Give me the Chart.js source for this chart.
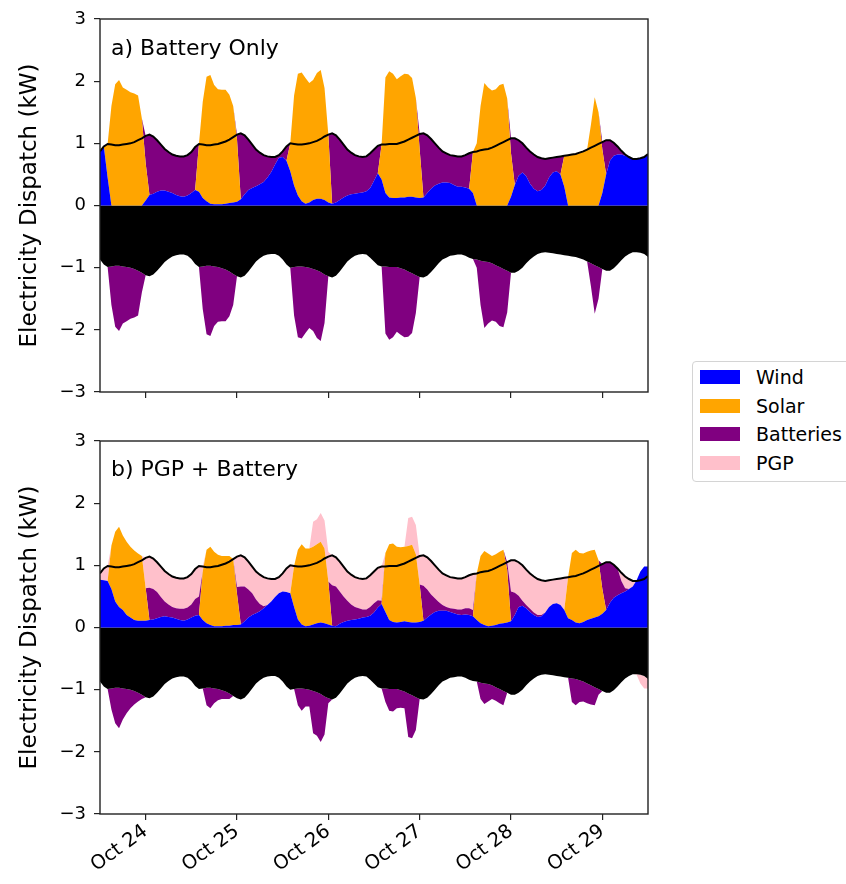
<!DOCTYPE html>
<html>
<head>
<meta charset="utf-8">
<script src="https://cdn.jsdelivr.net/npm/chart.js@4.4.1/dist/chart.umd.min.js"></script>
<style>
  body { margin: 0; width: 846px; height: 884px; background: #fff; position: relative; overflow: hidden; font-family: "DejaVu Sans", sans-serif; }
  canvas { position: absolute; left: 0; }
  #chartA { top: 0; }
  #chartB { top: 420px; }
  #legend { position: absolute; left: 692px; top: 361px; width: 170px; height: 119px; border: 1px solid #d4d4d4; border-radius: 4px; background: #fff; }
  .item { position: absolute; left: 7px; height: 14px; }
  .swatch { position: absolute; left: 0; top: 0; width: 40px; height: 14px; }
  .name { position: absolute; left: 56px; top: -4px; font-size: 19px; line-height: 22px; white-space: nowrap; color: #000; }
</style>
</head>
<body>
<canvas id="chartA" width="660" height="420"></canvas>
<canvas id="chartB" width="660" height="464"></canvas>
<div id="legend"></div>
<script>
// hourly values from Oct 23 12:00 to Oct 29 12:00 (kW)
var demand = [
  0.87,0.95,0.99,0.98,0.97,0.97,0.98,0.99,1.00,1.02,1.05,1.08,
  1.12,1.14,1.11,1.05,0.98,0.91,0.86,0.82,0.80,0.79,0.79,0.81,
  0.86,0.94,0.99,0.98,0.97,0.97,0.98,0.99,1.01,1.03,1.06,1.10,
  1.14,1.16,1.13,1.06,0.98,0.90,0.85,0.81,0.79,0.78,0.78,0.81,
  0.87,0.95,1.00,0.99,0.98,0.98,0.99,1.00,1.02,1.04,1.07,1.11,
  1.14,1.16,1.13,1.06,0.98,0.90,0.85,0.81,0.79,0.78,0.79,0.84,
  0.90,0.96,0.98,0.98,0.99,0.99,0.99,1.01,1.03,1.06,1.09,1.12,
  1.15,1.16,1.13,1.07,1.00,0.93,0.87,0.84,0.81,0.80,0.79,0.79,
  0.81,0.84,0.86,0.87,0.89,0.90,0.91,0.93,0.96,0.99,1.02,1.05,
  1.08,1.08,1.05,1.00,0.93,0.87,0.82,0.78,0.76,0.75,0.76,0.77,
  0.78,0.79,0.80,0.81,0.82,0.83,0.85,0.87,0.90,0.93,0.96,0.99,
  1.02,1.05,1.05,1.01,0.95,0.88,0.82,0.78,0.75,0.75,0.76,0.78,
  0.83];

// a) Battery Only
var windA = [
  0.87,0.95,0.45,0,0,0,0,0,0,0,0,0,
  0.08,0.17,0.19,0.22,0.24,0.24,0.22,0.20,0.17,0.15,0.14,0.16,
  0.20,0.25,0.22,0.12,0.07,0.03,0.02,0.02,0.02,0.03,0.04,0.05,
  0.06,0.10,0.18,0.25,0.28,0.31,0.34,0.38,0.45,0.54,0.66,0.77,
  0.78,0.72,0.55,0.32,0.16,0.07,0.03,0.05,0.09,0.11,0.11,0.09,
  0.05,0.03,0.05,0.09,0.13,0.16,0.18,0.19,0.20,0.21,0.23,0.28,
  0.40,0.52,0.42,0.20,0.13,0.12,0.12,0.13,0.13,0.14,0.14,0.13,
  0.12,0.13,0.20,0.27,0.32,0.35,0.37,0.37,0.36,0.33,0.30,0.30,
  0.29,0.27,0.20,0,0,0,0,0,0,0,0,0,
  0.14,0.33,0.48,0.53,0.47,0.35,0.27,0.23,0.25,0.32,0.45,0.53,
  0.55,0.50,0.30,0,0,0,0,0,0,0,0,0,
  0.20,0.50,0.72,0.80,0.82,0.82,0.80,0.78,0.75,0.75,0.76,0.78,
  0.82];
var solarA = [
  0,0,0.54,1.60,1.95,2.02,1.90,1.86,1.82,1.80,1.77,1.40,
  0.60,0,0,0,0,0,0,0,0,0,0,0,
  0,0,0.77,1.55,2.00,2.07,1.92,1.85,1.84,1.83,1.74,1.55,
  1.00,0,0,0,0,0,0,0,0,0,0,0,
  0,0,0.45,1.45,1.96,2.07,2.02,1.92,1.93,2.02,2.07,1.80,
  1.09,0,0,0,0,0,0,0,0,0,0,0,
  0,0,0.56,1.86,2.03,2.00,1.91,1.95,1.99,1.97,1.91,1.60,
  0.78,0,0,0,0,0,0,0,0,0,0,0,
  0,0,0.66,1.00,1.60,1.97,1.90,1.85,1.87,1.94,1.96,1.72,
  0.70,0,0,0,0,0,0,0,0,0,0,0,
  0,0,0.50,0.81,0.82,0.83,0.85,0.87,0.90,1.30,1.74,1.50,
  0.70,0,0,0,0,0,0,0,0,0,0,0,
  0];
var battOutA = [
  0,0,0,0,0,0,0,0,0,0,0,0,
  0.44,0.97,0.92,0.83,0.74,0.67,0.64,0.62,0.63,0.64,0.65,0.65,
  0.66,0.69,0,0,0,0,0,0,0,0,0,0,
  0.08,1.06,0.95,0.81,0.70,0.59,0.51,0.43,0.34,0.24,0.12,0.04,
  0.09,0.23,0,0,0,0,0,0,0,0,0,0,
  0,1.13,1.08,0.97,0.85,0.74,0.67,0.62,0.59,0.57,0.56,0.56,
  0.50,0.44,0,0,0,0,0,0,0,0,0,0,
  0.25,1.03,0.93,0.80,0.68,0.58,0.50,0.47,0.45,0.47,0.49,0.49,
  0.52,0.57,0,0,0,0,0,0,0,0,0,0,
  0.24,0.75,0.57,0.47,0.46,0.52,0.55,0.55,0.51,0.43,0.31,0.24,
  0.23,0.29,0,0,0,0,0,0,0,0,0,0,
  0.12,0.55,0.33,0.21,0.13,0.06,0.02,0,0,0,0,0,
  0];
var battInA = [
  0,0,0,0.62,0.98,1.05,0.92,0.87,0.82,0.78,0.72,0.32,
  0,0,0,0,0,0,0,0,0,0,0,0,
  0,0,0,0.69,1.10,1.13,0.96,0.88,0.85,0.83,0.72,0.50,
  0,0,0,0,0,0,0,0,0,0,0,0,
  0,0,0,0.78,1.14,1.16,1.06,0.97,1.00,1.09,1.11,0.78,
  0,0,0,0,0,0,0,0,0,0,0,0,
  0,0,0,1.08,1.17,1.13,1.04,1.07,1.09,1.05,0.96,0.61,
  0,0,0,0,0,0,0,0,0,0,0,0,
  0,0,0,0.13,0.71,1.07,0.99,0.92,0.91,0.95,0.94,0.67,
  0,0,0,0,0,0,0,0,0,0,0,0,
  0,0,0,0,0,0,0,0,0,0.37,0.78,0.51,
  0,0,0,0,0,0,0,0,0,0,0,0,
  0];

// b) PGP + Battery
var windB = [
  0.77,0.76,0.75,0.62,0.42,0.33,0.28,0.20,0.16,0.12,0.11,0.11,
  0.11,0.12,0.13,0.15,0.17,0.18,0.17,0.16,0.14,0.12,0.11,0.13,
  0.16,0.19,0.20,0.12,0.07,0.04,0.02,0.02,0.02,0.03,0.03,0.04,
  0.04,0.05,0.10,0.16,0.20,0.23,0.26,0.31,0.36,0.42,0.49,0.55,
  0.58,0.57,0.55,0.33,0.13,0.05,0.02,0.03,0.05,0.07,0.08,0.07,
  0.05,0.03,0.02,0.06,0.09,0.11,0.12,0.13,0.14,0.16,0.17,0.19,
  0.24,0.32,0.38,0.25,0.12,0.09,0.08,0.09,0.10,0.09,0.08,0.08,
  0.09,0.11,0.16,0.21,0.25,0.27,0.27,0.27,0.25,0.23,0.21,0.20,
  0.21,0.20,0.18,0.12,0.07,0.04,0.02,0.03,0.04,0.06,0.07,0.08,
  0.10,0.20,0.33,0.35,0.31,0.25,0.20,0.17,0.18,0.24,0.33,0.38,
  0.39,0.36,0.28,0.15,0.12,0.08,0.07,0.09,0.12,0.14,0.16,0.18,
  0.22,0.28,0.40,0.48,0.52,0.55,0.58,0.62,0.66,0.76,0.90,0.98,
  0.98];
var solarB = [
  0,0,0,0.70,1.12,1.29,1.20,1.18,1.14,1.12,1.08,1.04,
  0.52,0,0,0,0,0,0,0,0,0,0,0,
  0,0,0,0.78,1.18,1.26,1.20,1.15,1.13,1.12,1.12,1.06,
  0.50,0,0,0,0,0,0,0,0,0,0,0,
  0,0,0,0.66,1.12,1.29,1.25,1.24,1.25,1.27,1.30,1.20,
  0.69,0,0,0,0,0,0,0,0,0,0,0,
  0,0,0,0.95,1.22,1.26,1.22,1.20,1.20,1.22,1.25,1.10,
  0.60,0,0,0,0,0,0,0,0,0,0,0,
  0,0,0,0.75,1.08,1.19,1.17,1.12,1.14,1.16,1.18,0.85,
  0,0,0,0,0,0,0,0,0,0,0,0,
  0,0,0,0.66,1.08,1.17,1.13,1.10,1.10,1.10,1.09,0.90,
  0.40,0,0,0,0,0,0,0,0,0,0,0,
  0];
var battOutB = [
  0,0,0,0,0,0,0,0,0,0,0,0,
  0,0.52,0.49,0.42,0.32,0.24,0.20,0.17,0.17,0.18,0.19,0.19,
  0.21,0.27,0.30,0,0,0,0,0,0,0,0,0,
  0.11,0.61,0.56,0.45,0.35,0.22,0.12,0.03,0,0,0,0,
  0,0,0,0,0,0,0,0,0,0,0,0,
  0,0.65,0.64,0.52,0.41,0.32,0.25,0.20,0.17,0.13,0.12,0.14,
  0.15,0.12,0.05,0,0,0,0,0,0,0,0,0,
  0,0.56,0.45,0.32,0.22,0.14,0.09,0.06,0.06,0.07,0.08,0.09,
  0.10,0.11,0.10,0,0,0,0,0,0,0,0,0.12,
  0.48,0.36,0.18,0.08,0.05,0.05,0.04,0.03,0.02,0,0,0,
  0,0,0,0,0,0,0,0,0,0,0,0,
  0.40,0.77,0.65,0.53,0.43,0.20,0.05,0,0,0,0,0,
  0];
var pgpOutB = [
  0.10,0.19,0.24,0,0,0,0,0,0,0,0,0,
  0.49,0.50,0.49,0.48,0.49,0.49,0.49,0.49,0.49,0.49,0.49,0.49,
  0.49,0.48,0.49,0.08,0,0,0,0,0,0,0,0,
  0.49,0.50,0.47,0.45,0.43,0.45,0.47,0.47,0.43,0.36,0.29,0.26,
  0.29,0.38,0.45,0,0,0,0,0,0.40,0.40,0.46,0.45,
  0.48,0.48,0.47,0.48,0.48,0.47,0.48,0.48,0.48,0.49,0.50,0.51,
  0.51,0.52,0.55,0,0,0,0,0,0,0.45,0.45,0.47,
  0.46,0.49,0.52,0.54,0.53,0.52,0.51,0.51,0.50,0.50,0.50,0.50,
  0.50,0.53,0.58,0,0,0,0,0,0,0,0,0,
  0.50,0.52,0.54,0.57,0.57,0.57,0.58,0.58,0.56,0.51,0.43,0.39,
  0.39,0.43,0.52,0,0,0,0,0,0,0,0,0,
  0,0,0,0,0,0.13,0.19,0.16,0.09,0,0,0,
  0];
var battInB = [
  0,0,0,0.34,0.57,0.65,0.50,0.39,0.30,0.22,0.14,0.07,
  0,0,0,0,0,0,0,0,0,0,0,0,
  0,0,0,0,0.28,0.33,0.24,0.18,0.14,0.12,0.09,0,
  0,0,0,0,0,0,0,0,0,0,0,0,
  0,0,0,0,0.27,0.36,0.28,0.27,0.68,0.70,0.77,0.61,
  0.08,0,0,0,0,0,0,0,0,0,0,0,
  0,0,0,0.22,0.35,0.36,0.31,0.28,0.27,0.70,0.69,0.53,
  0,0,0,0,0,0,0,0,0,0,0,0,
  0,0,0,0,0.26,0.33,0.28,0.22,0.22,0.23,0.23,0,
  0,0,0,0,0,0,0,0,0,0,0,0,
  0,0,0,0,0.38,0.42,0.35,0.32,0.32,0.31,0.29,0.09,
  0,0,0,0,0,0,0,0,0,0,0,0,
  0];
var pgpInB = [
  0,0,0,0,0,0,0,0,0,0,0,0,
  0,0,0,0,0,0,0,0,0,0,0,0,
  0,0,0,0,0,0,0,0,0,0,0,0,
  0,0,0,0,0,0,0,0,0,0,0,0,
  0,0,0,0,0,0,0,0,0,0,0,0,
  0,0,0,0,0,0,0,0,0,0,0,0,
  0,0,0,0,0,0,0,0,0,0,0,0,
  0,0,0,0,0,0,0,0,0,0,0,0,
  0,0,0,0,0,0,0,0,0,0,0,0,
  0,0,0,0,0,0,0,0,0,0,0,0,
  0,0,0,0,0,0,0,0,0,0,0,0,
  0,0,0,0,0,0,0,0,0,0.01,0.14,0.20,
  0.15];

var dayTicks = [12, 36, 60, 84, 108, 132];
var dayLabels = ['Oct 24', 'Oct 25', 'Oct 26', 'Oct 27', 'Oct 28', 'Oct 29'];
var legendNames = ['Wind', 'Solar', 'Batteries', 'PGP'];
var legendColors = ['#0000ff', '#ffa500', '#800080', '#ffc0cb'];

Chart.defaults.font.family = '"DejaVu Sans", sans-serif';
Chart.defaults.color = '#000';

var hours = demand.map(function (v, i) { return i; });
function pos(arr) { return arr.map(function (v, i) { return {x: hours[i], y: v}; }); }
function neg(arr) { return arr.map(function (v, i) { return {x: hours[i], y: -v}; }); }

function area(label, data, color, fill, stack) {
  return {label: label, data: data, backgroundColor: color, borderWidth: 0,
          pointRadius: 0, tension: 0, fill: fill, stack: stack};
}
function demandLine() {
  return {label: 'Demand', data: pos(demand), borderColor: '#000', borderWidth: 2,
          pointRadius: 0, tension: 0, fill: false, stack: 'line', order: -1};
}

// box round the plot and the panel letter
var framePlugin = {
  id: 'frame',
  afterDraw: function (chart, args, opts) {
    var ctx = chart.ctx, a = chart.chartArea;
    ctx.save();
    ctx.strokeStyle = '#222';
    ctx.lineWidth = 1.4;
    ctx.strokeRect(a.left, a.top, a.right - a.left, a.bottom - a.top);
    ctx.fillStyle = '#000';
    ctx.font = '22px "DejaVu Sans"';
    ctx.textBaseline = 'alphabetic';
    ctx.fillText(opts.text, a.left + opts.dx, a.top + opts.dy);
    ctx.restore();
  }
};

function makeChart(id, datasets, label, dy, showLabels, padTop) {
  var tickGrid = {drawOnChartArea: false, drawTicks: true, tickLength: 6, color: '#222', lineWidth: 1.2};
  return new Chart(document.getElementById(id), {
    type: 'line',
    data: {datasets: datasets},
    options: {
      responsive: false,
      animation: false,
      events: [],
      layout: {padding: {top: padTop, right: 12, left: 0, bottom: 0}},
      plugins: {
        legend: {display: false},
        tooltip: {enabled: false},
        frame: {text: label, dx: 11, dy: dy}
      },
      scales: {
        x: {
          type: 'linear', min: 0, max: 144,
          border: {display: false},
          grid: tickGrid,
          afterBuildTicks: function (s) { s.ticks = dayTicks.map(function (v) { return {value: v}; }); },
          afterFit: function (s) { s.height = showLabels ? 70 : 28; },
          ticks: {
            display: showLabels, autoSkip: false, minRotation: 36, maxRotation: 36,
            padding: 0, font: {size: 19.5},
            callback: function (v, i) { return dayLabels[i]; }
          }
        },
        y: {
          stacked: true, min: -3, max: 3,
          border: {display: false},
          grid: tickGrid,
          afterFit: function (s) { s.width = 100; },
          ticks: {
            stepSize: 1, padding: 8, font: {size: 18},
            callback: function (v) { return v < 0 ? '\u2212' + (-v) : '' + v; }
          },
          title: {display: true, text: 'Electricity Dispatch (kW)', font: {size: 23}, padding: {top: 16, bottom: 0}}
        }
      }
    },
    plugins: [framePlugin]
  });
}

makeChart('chartA', [
  area('Wind', pos(windA), '#0000ff', 'origin', 'gen'),
  area('Solar', pos(solarA), '#ffa500', '-1', 'gen'),
  area('Batteries', pos(battOutA), '#800080', '-1', 'gen'),
  area('Load', neg(demand), '#000000', 'origin', 'use'),
  area('Battery charging', neg(battInA), '#800080', '-1', 'use'),
  demandLine()
], 'a) Battery Only', 36, false, 19);

makeChart('chartB', [
  area('Wind', pos(windB), '#0000ff', 'origin', 'gen'),
  area('Solar', pos(solarB), '#ffa500', '-1', 'gen'),
  area('Batteries', pos(battOutB), '#800080', '-1', 'gen'),
  area('PGP', pos(pgpOutB), '#ffc0cb', '-1', 'gen'),
  area('Load', neg(demand), '#000000', 'origin', 'use'),
  area('Battery charging', neg(battInB), '#800080', '-1', 'use'),
  area('PGP charging', neg(pgpInB), '#ffc0cb', '-1', 'use'),
  demandLine()
], 'b) PGP + Battery', 35, true, 21);

var legend = document.getElementById('legend');
legendNames.forEach(function (name, i) {
  var item = document.createElement('div');
  item.className = 'item';
  item.style.top = (8 + i * 28.7) + 'px';
  item.innerHTML = '<span class="swatch" style="background:' + legendColors[i] + '"></span><span class="name">' + name + '</span>';
  legend.appendChild(item);
});
</script>
</body>
</html>
